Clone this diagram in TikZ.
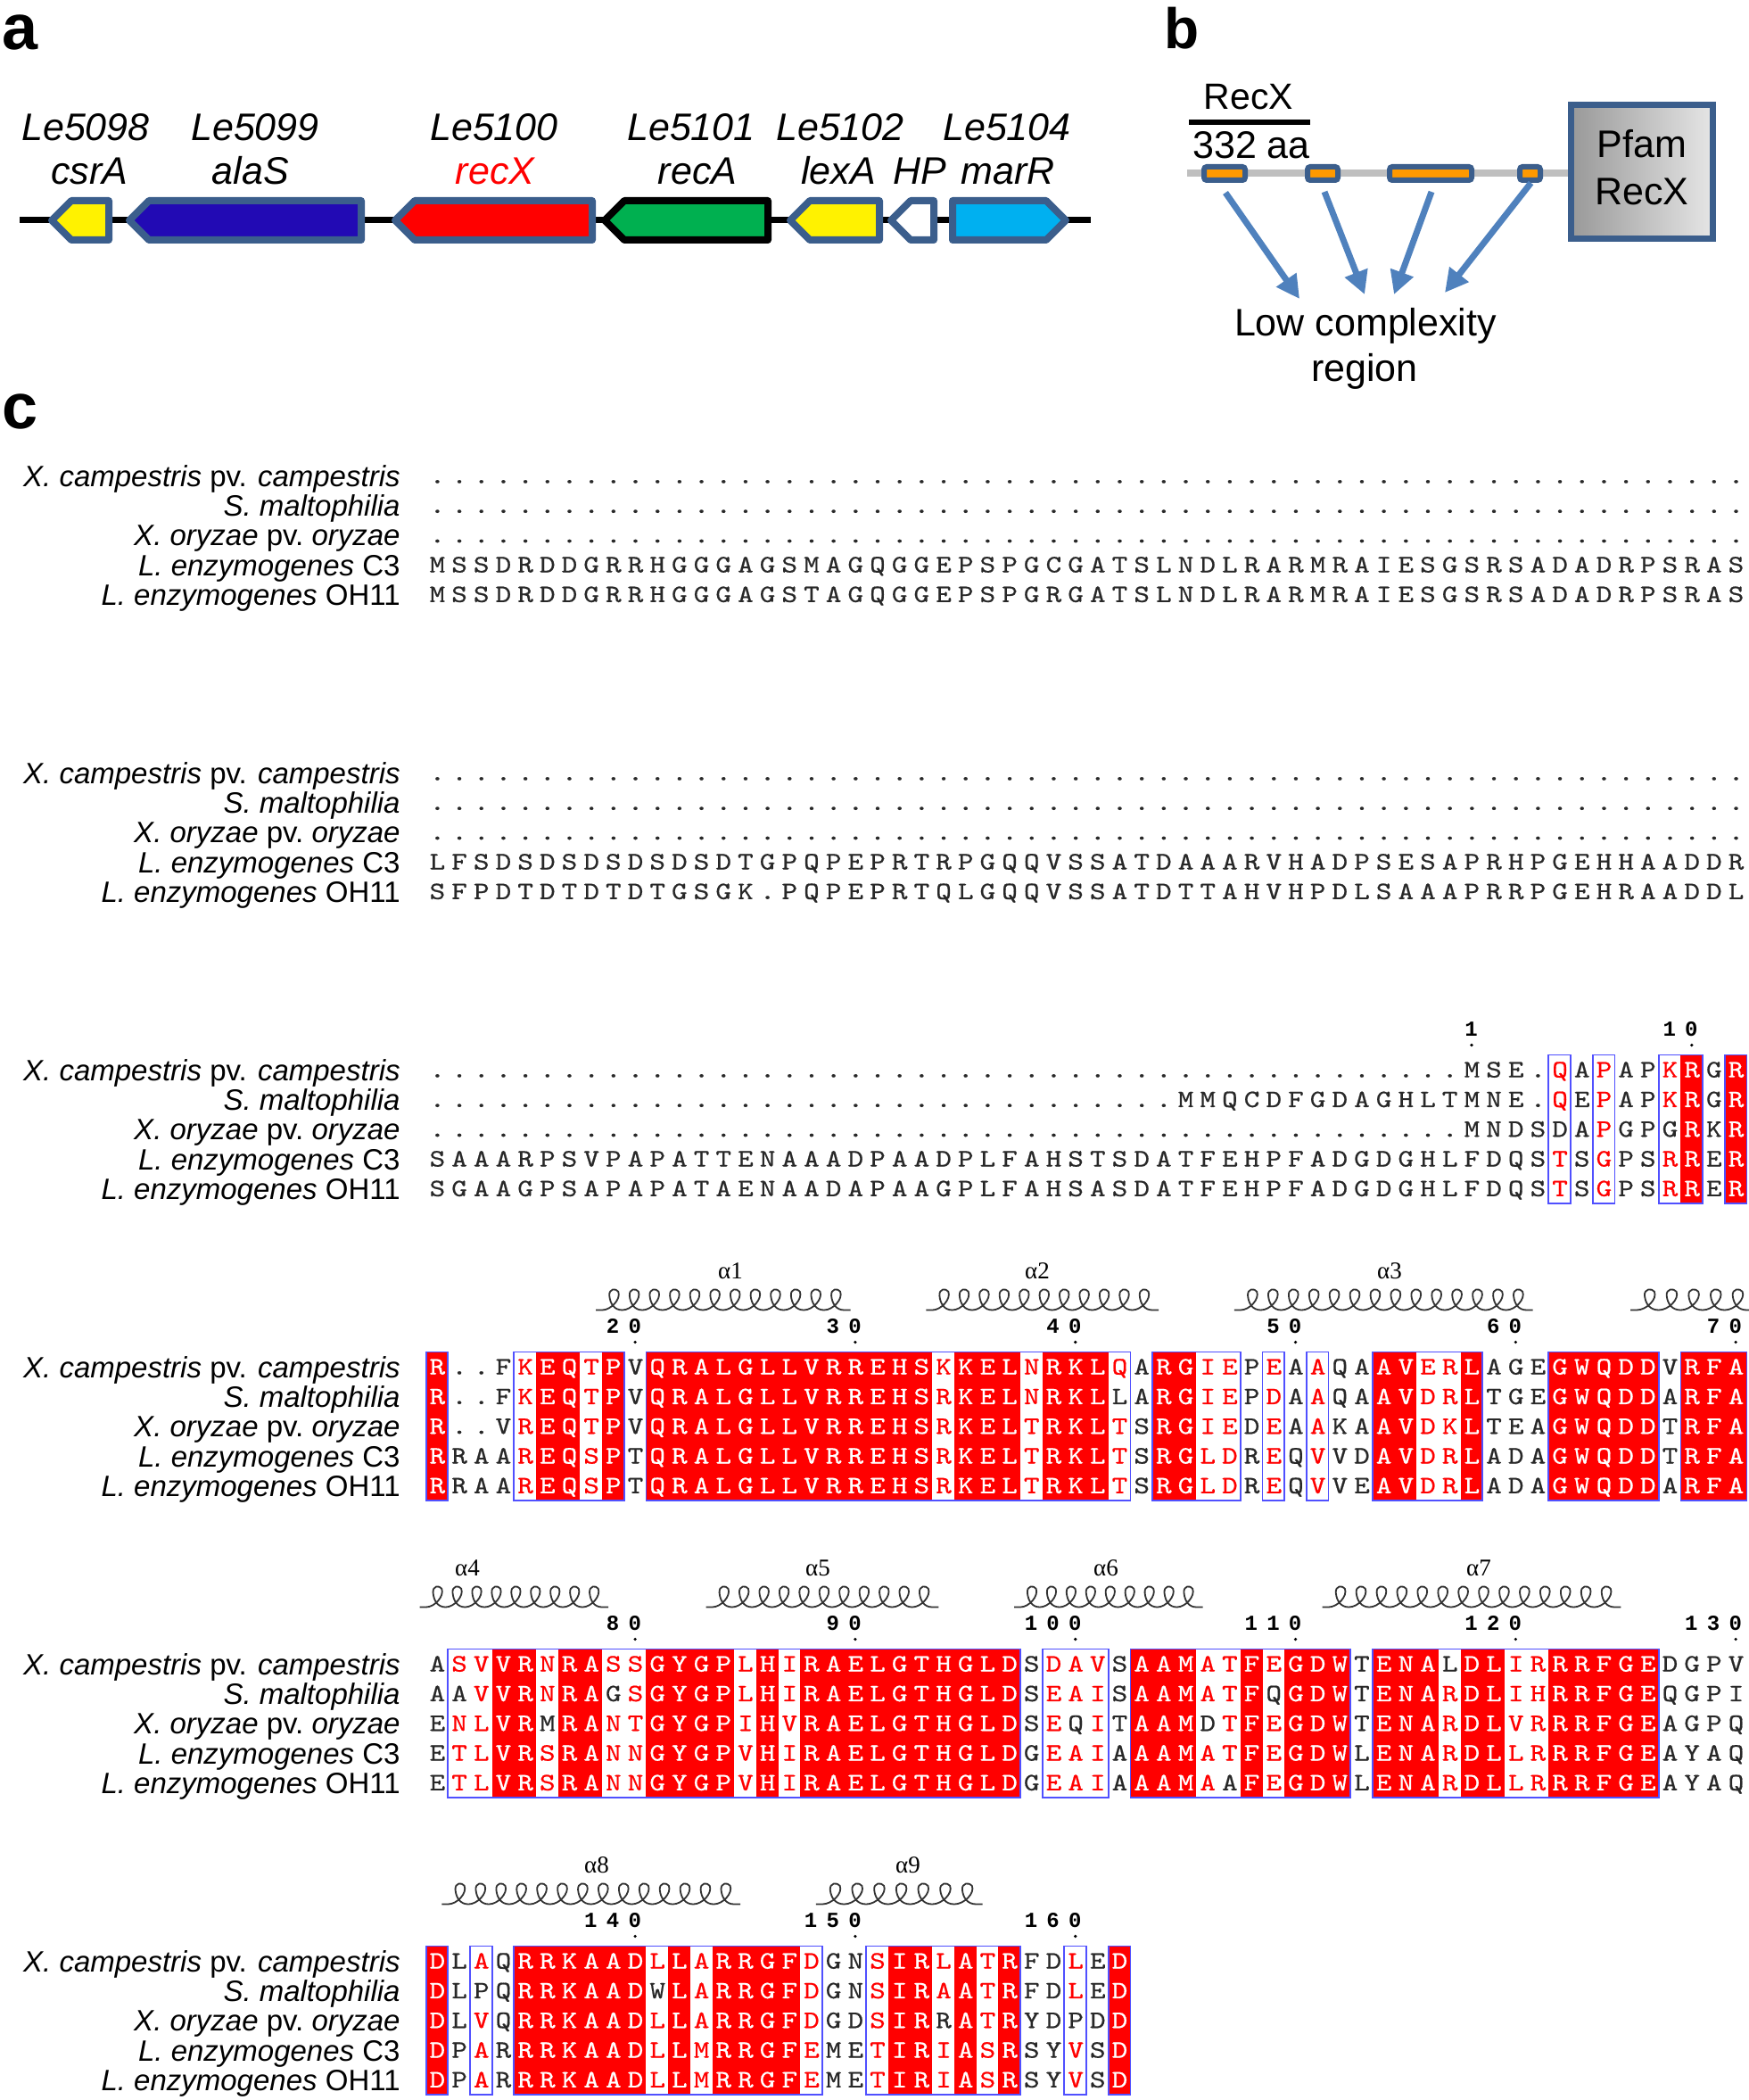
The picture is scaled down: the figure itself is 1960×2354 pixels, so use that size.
\documentclass[tikz,border=0pt]{standalone}
\usepackage{fontspec}
\setmainfont{Liberation Sans}
\newfontfamily\serifgr{Liberation Serif}
\newfontfamily\numfont{Liberation Mono}
\newfontfamily\seqfont{lmmono10-regular}[Extension=.otf, FakeStretch=1.2, FakeBold=0.6]
\usetikzlibrary{arrows.meta}

\definecolor{seqred}{RGB}{255,0,0}
\definecolor{seqblack}{RGB}{40,40,40}
\definecolor{frameblue}{RGB}{80,80,255}
\definecolor{genebord}{RGB}{59,94,140}
\definecolor{arrowblue}{RGB}{79,129,189}
\definecolor{segorange}{RGB}{255,153,0}
\definecolor{alasblue}{RGB}{34,10,180}
\definecolor{recagreen}{RGB}{0,176,80}
\definecolor{marrblue}{RGB}{0,176,240}
\definecolor{backgray}{RGB}{191,191,191}

\newcount\colc
\newdimen\cw \cw=12.34pt
\def\tendots{..........}
\def\blk{}
\def\seqrow#1#2{\def\blk{#1}\colc=0 \edef\seqtmp{#2}\expandafter\seqloop\seqtmp\relax}
\def\seqloop#1{\ifx\relax#1\else\advance\colc by 1 \seqchar{#1}\expandafter\seqloop\fi}
\def\seqchar#1{%
  \ifcsname id\blk-\the\colc\endcsname\def\cc{white}%
  \else\ifnum`#1>96 \def\cc{seqred}\else\def\cc{seqblack}\fi\fi
  \uppercase{\def\ch{#1}}%
  \makebox[\cw][c]{\color{\cc}\ch}}
\def\mydigits#1{\mydigloop#1\relax}
\def\mydigloop#1{\ifx\relax#1\else\makebox[\cw][c]{#1}\expandafter\mydigloop\fi}
\def\defids#1#2{\foreach \a/\b in {#2}{\foreach \colk in {\a,...,\b}{\expandafter\gdef\csname id#1-\colk\endcsname{}}}}

\tikzset{
 seqrowstyle/.style={anchor=base west, inner sep=0pt, font=\seqfont\fontsize{14}{18}\selectfont},
 splabel/.style={anchor=base east, inner sep=0pt, font=\fontsize{16.5}{20}\selectfont},
 seqframe/.style={draw=frameblue, line width=0.9pt},
 helixline/.style={draw=black!80, line width=0.9pt},
 helixlbl/.style={anchor=base, inner sep=0pt, font=\serifgr\fontsize{13.5}{16}\selectfont},
 numlbl/.style={anchor=base east, inner sep=0pt, font=\numfont\bfseries\fontsize{12}{14}\selectfont},
 genelbl/.style={anchor=base, inner sep=0pt, font=\itshape\fontsize{21.5}{26}\selectfont},
 panellbl/.style={anchor=base west, inner sep=0pt, font=\bfseries\fontsize{36}{40}\selectfont},
 btext/.style={anchor=base, inner sep=0pt, font=\fontsize{21.5}{25}\selectfont},
 segbox/.style={draw=genebord, line width=3pt, fill=segorange, rounded corners=1.5pt, inner sep=0pt},
 lcarrow/.style={draw=arrowblue, line width=3.5pt, -{Triangle[length=13pt,width=13pt]}},
 genebody/.style={line width=4pt, line join=round},
}

\newcommand\geneL[4]{\draw[genebody, draw=#4, fill=#3] ({#1+4},247) -- ({#1+26},225) -- ({#2-4},225) -- ({#2-4},269) -- ({#1+26},269) -- cycle;}
\newcommand\geneR[4]{\draw[genebody, draw=#4, fill=#3] ({#1+4},225) -- ({#2-26},225) -- ({#2-4},247) -- ({#2-26},269) -- ({#1+4},269) -- cycle;}

\newcommand\seqblock[4]{% id, T, fills, frames
  \defids{#1}{#3}
  \foreach \a/\b in {#3}{\fill[seqred] ({477.66+(\a-1)*24.68},#2) rectangle ({477.66+\b*24.68},{#2+166.5});}
  \foreach \a/\b in {#4}{\draw[seqframe] ({477.66+(\a-1)*24.68},#2) rectangle ({477.66+\b*24.68},{#2+166.5});}
}
\newcommand\seqrows[7]{% id, T, rows
  \node[seqrowstyle] (s#1a) at (477.66,{#2+25.15}) {\seqrow{#1}{#3}};
  \node[seqrowstyle] (s#1b) at (477.66,{#2+58.45}) {\seqrow{#1}{#4}};
  \node[seqrowstyle] (s#1c) at (477.66,{#2+91.75}) {\seqrow{#1}{#5}};
  \node[seqrowstyle] (s#1d) at (477.66,{#2+125.05}) {\seqrow{#1}{#6}};
  \node[seqrowstyle] (s#1e) at (477.66,{#2+158.35}) {\seqrow{#1}{#7}};
}
\newcommand\specieslabels[2]{% id, T
  \node[splabel] (l#1a) at (449,{#2+28.65}) {\textit{X. campestris} pv. \textit{campestris}};
  \node[splabel] (l#1b) at (449,{#2+61.95}) {\textit{S. maltophilia}};
  \node[splabel] (l#1c) at (449,{#2+95.25}) {\textit{X. oryzae} pv.\ \textit{oryzae}};
  \node[splabel] (l#1d) at (449,{#2+128.55}) {\textit{L. enzymogenes} C3};
  \node[splabel] (l#1e) at (449,{#2+161.85}) {\textit{L. enzymogenes} OH11};
}
\newcommand\resnum[4]{% name, T, col, digits
  \node[numlbl] (#1) at ({477.66+#3*24.68},{#2-21}) {\mydigits{#4}};
  \fill[black] ({465.32+#3*24.68},{#2-11}) circle (0.9pt);
}
\newcommand\helix[4]{% x1,x2,base,n
  \pgfmathsetmacro\hs{(#2-#1)/#4}
  \draw[helixline] ({#1-7},#3) -- (#1,#3)
    \foreach \i in {1,...,#4}{
      .. controls ({#1+(\i-1)*\hs+0.45*\hs},#3) and ({#1+(\i-1)*\hs+0.95*\hs},{#3-12.6}) .. ({#1+(\i-1)*\hs+0.8*\hs},{#3-20.7})
      .. controls ({#1+(\i-1)*\hs+0.68*\hs},{#3-24.8}) and ({#1+(\i-1)*\hs+0.33*\hs},{#3-24.2}) .. ({#1+(\i-1)*\hs+0.36*\hs},{#3-16.1})
      .. controls ({#1+(\i-1)*\hs+0.4*\hs},{#3-6.9}) and ({#1+(\i-1)*\hs+0.6*\hs},#3) .. ({#1+\i*\hs},#3)
    } -- ({#2+7},#3);
}

\begin{document}
\begin{tikzpicture}[x=0.5pt,y=-0.5pt]
\fill[white] (0,0) rectangle (1960,2354);
\useasboundingbox (0,0) rectangle (1960,2354);

% panel letters
\node[panellbl] (pa) at (2,56) {a};
\node[panellbl, font=\bfseries\fontsize{32}{36}\selectfont] (pb) at (1305,55) {b};
\node[panellbl] (pc) at (2,480) {c};

% ---------------- panel a ----------------
\draw[line width=3.5pt] (22,247) -- (1223,247);
\geneL{54}{126}{yellow}{genebord}
\geneL{141}{409}{alasblue}{genebord}
\geneL{439}{668}{red}{genebord}
\geneL{674}{865}{recagreen}{black}
\geneL{882}{990}{yellow}{genebord}
\geneL{995}{1051}{white}{genebord}
\geneR{1064}{1199}{marrblue}{genebord}

\node[genelbl] (ga1) at (96,158) {Le5098};
\node[genelbl] (ga2) at (100,207) {csrA};
\node[genelbl] (gb1) at (286,158) {Le5099};
\node[genelbl] (gb2) at (281,207) {alaS};
\node[genelbl] (gc1) at (554,158) {Le5100};
\node[genelbl, text=red] (gc2) at (555,207) {recX};
\node[genelbl] (gd1) at (775,158) {Le5101};
\node[genelbl] (gd2) at (782,207) {recA};
\node[genelbl] (ge1) at (942,158) {Le5102};
\node[genelbl] (ge2) at (940,207) {lexA};
\node[genelbl] (gf2) at (1031,207) {HP};
\node[genelbl] (gg1) at (1129,158) {Le5104};
\node[genelbl] (gg2) at (1130,207) {marR};

% ---------------- panel b ----------------
\node[btext, font=\fontsize{20.5}{24}\selectfont] (recxt) at (1400,123) {RecX};
\draw[line width=2.6pt] (1333,137) -- (1469,137);
\node[btext] (aalen) at (1403,178) {332 aa};
\draw[backgray, line width=4pt] (1331,194) -- (1760,194);
\node[draw=genebord, line width=3.5pt, left color=black!40, right color=black!10, minimum width=79.5pt, minimum height=75pt, inner sep=0pt] (pfam) at (1841,192.5) {};
\node[btext] (pf1) at (1841,177) {Pfam};
\node[btext] (pf2) at (1841,230) {RecX};
\node[segbox, minimum width=23pt, minimum height=7.5pt] (seg1) at (1373,194.5) {};
\node[segbox, minimum width=17pt, minimum height=7.5pt] (seg2) at (1483,194.5) {};
\node[segbox, minimum width=46pt, minimum height=7.5pt] (seg3) at (1604,194.5) {};
\node[segbox, minimum width=11.5pt, minimum height=7.5pt] (seg4) at (1715.5,194.5) {};
\node[btext] (lc1) at (1531,377) {Low complexity};
\node[btext] (lc2) at (1530,427) {region};
\coordinate (t1) at (1457,335);
\coordinate (t2) at (1530,330);
\coordinate (t3) at (1563,330);
\coordinate (t4) at (1620,328);
\draw[lcarrow] (seg1.south) ++(1,11) -- (t1);
\draw[lcarrow] (seg2.south) ++(2,10) -- (t2);
\draw[lcarrow] (seg3.south) ++(1,10) -- (t3);
\draw[lcarrow] (seg4.south) ++(1,0) -- (t4);

% ---------------- panel c ----------------
% block 1
\specieslabels{1}{516.5}
\seqrows{1}{516.5}
 {\tendots\tendots\tendots\tendots\tendots\tendots}
 {\tendots\tendots\tendots\tendots\tendots\tendots}
 {\tendots\tendots\tendots\tendots\tendots\tendots}
 {MSSDRDDGRRHGGGAGSMAGQGGEPSPGCGATSLNDLRARMRAIESGSRSADADRPSRAS}
 {MSSDRDDGRRHGGGAGSTAGQGGEPSPGRGATSLNDLRARMRAIESGSRSADADRPSRAS}

% block 2
\specieslabels{2}{849.5}
\seqrows{2}{849.5}
 {\tendots\tendots\tendots\tendots\tendots\tendots}
 {\tendots\tendots\tendots\tendots\tendots\tendots}
 {\tendots\tendots\tendots\tendots\tendots\tendots}
 {LFSDSDSDSDSDSDTGPQPEPRTRPGQQVSSATDAAARVHADPSESAPRHPGEHHAADDR}
 {SFPDTDTDTDTGSGK.PQPEPRTQLGQQVSSATDTTAHVHPDLSAAAPRRPGEHRAADDL}

% block 3
\seqblock{3}{1182.5}{58/58,60/60}{52/52,54/54,57/58,60/60}
\resnum{n3a}{1182.5}{48}{1}
\resnum{n3b}{1182.5}{58}{10}
\specieslabels{3}{1182.5}
\seqrows{3}{1182.5}
 {\tendots\tendots\tendots\tendots....... MSE.qApAPkRGR}
 {\tendots\tendots\tendots.... MMQCDFGDAGHLTMNE.qEpAPkRGR}
 {\tendots\tendots\tendots\tendots....... MNDSDApGPGRKR}
 {SAAARPSVPAPATTENAAADPAADPLFAHSTSDATFEHPFADGDGHLFDQStSgPSrRER}
 {SGAAGPSAPAPATAENAADAPAAGPLFAHSASDATFEHPFADGDGHLFDQStSgPSrRER}

% block 4
\node[helixlbl] (ha1) at (819,1433.5) {α1};
\node[helixlbl] (ha2) at (1163,1433.5) {α2};
\node[helixlbl] (ha3) at (1558,1433.5) {α3};
\helix{675.1}{946.58}{1468.5}{12}
\helix{1045.3}{1292.1}{1468.5}{11}
\helix{1390.8}{1711.7}{1468.5}{14}
\helix{1835.1}{1958.5}{1468.5}{5}
\resnum{n4a}{1515.5}{10}{20}
\resnum{n4b}{1515.5}{20}{30}
\resnum{n4c}{1515.5}{30}{40}
\resnum{n4d}{1515.5}{40}{50}
\resnum{n4e}{1515.5}{50}{60}
\resnum{n4f}{1515.5}{60}{70}
\seqblock{4}{1515.5}{1/1,6/7,9/9,11/23,25/27,29/31,34/35,44/45,48/48,52/56,58/60}{1/1,5/9,11/32,34/37,39/39,41/41,44/48,52/56,58/60}
\specieslabels{4}{1515.5}
\seqrows{4}{1515.5}
 {R..FkEQtPV QRALGLLVRR EHSkKELnRK LqARGiePeA aQAAVerLAG EGWQDDVRFA}
 {R..FkEQtPV QRALGLLVRR EHSrKELnRK LLARGiePdA aQAAVdrLTG EGWQDDARFA}
 {R..VrEQtPV QRALGLLVRR EHSrKELtRK LtSRGieDeA aKAAVdkLTE AGWQDDTRFA}
 {RRAArEQsPT QRALGLLVRR EHSrKELtRK LtSRGldReQ vVDAVdrLAD AGWQDDTRFA}
 {RRAArEQsPT QRALGLLVRR EHSrKELtRK LtSRGldReQ vVEAVdrLAD AGWQDDARFA}

% block 5
\node[helixlbl] (ha4) at (524,1766.5) {α4};
\node[helixlbl] (ha5) at (917,1766.5) {α5};
\node[helixlbl] (ha6) at (1240,1766.5) {α6};
\node[helixlbl] (ha7) at (1658,1766.5) {α7};
\helix{477.66}{675.1}{1801.5}{9}
\helix{798.5}{1045.3}{1801.5}{11}
\helix{1144.0}{1341.5}{1801.5}{9}
\helix{1489.5}{1810.4}{1801.5}{14}
\resnum{n5a}{1848.5}{10}{80}
\resnum{n5b}{1848.5}{20}{90}
\resnum{n5c}{1848.5}{30}{100}
\resnum{n5d}{1848.5}{40}{110}
\resnum{n5e}{1848.5}{50}{120}
\resnum{n5f}{1848.5}{60}{130}
\seqblock{5}{1848.5}{4/5,7/8,11/14,16/16,18/27,33/35,38/38,40/42,44/46,48/49,52/56}{2/27,29/31,33/42,44/56}
\specieslabels{5}{1848.5}
\seqrows{5}{1848.5}
 {AsvVRnRAss GYGPlHiRAE LGTHGLDSda vSAAMatFeG DWTENALDLi rRRFGEDGPV}
 {AAvVRnRAGs GYGPlHiRAE LGTHGLDSea iSAAMatFQG DWTENArDLi hRRFGEQGPI}
 {EnlVRMRAnt GYGPiHvRAE LGTHGLDSeQ iTAAMDtFeG DWTENArDLv rRRFGEAGPQ}
 {EtlVRsRAnn GYGPvHiRAE LGTHGLDGea iAAAMatFeG DWLENArDLl rRRFGEAYAQ}
 {EtlVRsRAnn GYGPvHiRAE LGTHGLDGea iAAAMaAFeG DWLENArDLl rRRFGEAYAQ}

% block 6
\node[helixlbl] (ha8) at (669,2099.5) {α8};
\node[helixlbl] (ha9) at (1018,2099.5) {α9};
\helix{502.3}{823.2}{2134.5}{14}
\helix{921.9}{1094.7}{2134.5}{7}
\resnum{n6a}{2181.5}{10}{140}
\resnum{n6b}{2181.5}{20}{150}
\resnum{n6c}{2181.5}{30}{160}
\seqblock{6}{2181.5}{1/1,5/10,12/12,14/17,22/23,25/25,27/27,32/32}{1/1,3/3,5/18,21/27,30/30,32/32}
\specieslabels{6}{2181.5}
\seqrows{6}{2181.5}
 {DLaQRRKAAD lLaRRGFdGN sIRlAtRFDl ED}
 {DLPQRRKAAD WLaRRGFdGN sIRaAtRFDl ED}
 {DLvQRRKAAD lLaRRGFdGD sIRRAtRYDP DD}
 {DPaRRRKAAD lLmRRGFeME tIRiAsRSYv SD}
 {DPaRRRKAAD lLmRRGFeME tIRiAsRSYv SD}
\end{tikzpicture}
\end{document}
